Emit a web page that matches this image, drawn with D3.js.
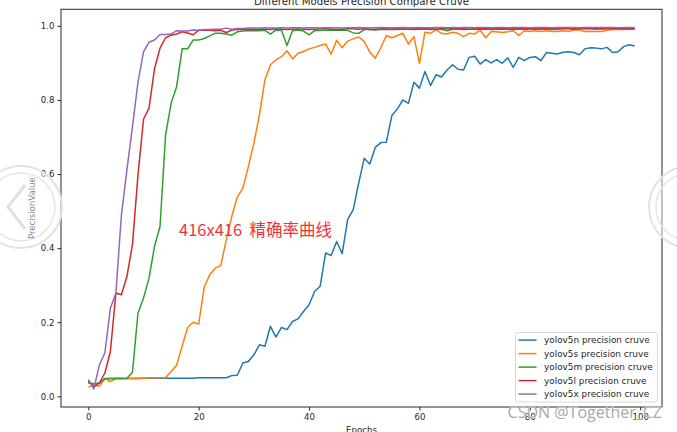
<!DOCTYPE html>
<html>
<head>
<meta charset="utf-8">
<script src="https://cdn.jsdelivr.net/npm/d3@7"></script>
<style>
  body { margin: 0; background: #fff; }
  svg { display: block; }
  .tick text { font-family: "DejaVu Sans", sans-serif; font-size: 8.6px; fill: #262626; }
  .tick line { stroke: #262626; }
</style>
</head>
<body>
<div class="chart"></div>
<script>
const epochs = d3.range(0, 100);

const yolov5n = [0.036,0.034,0.035,0.047,0.048,0.048,0.048,0.048,0.048,0.048,
  0.049,0.049,0.049,0.049,0.049,0.049,0.049,0.049,0.049,0.049,
  0.050,0.050,0.050,0.050,0.050,0.050,0.056,0.057,0.090,0.094,
  0.112,0.139,0.135,0.189,0.160,0.186,0.180,0.202,0.209,0.229,
  0.247,0.283,0.297,0.387,0.380,0.418,0.385,0.478,0.504,0.576,
  0.643,0.627,0.672,0.685,0.686,0.758,0.776,0.800,0.791,0.848,
  0.832,0.877,0.839,0.868,0.862,0.881,0.895,0.883,0.881,0.915,
  0.918,0.897,0.909,0.900,0.909,0.899,0.914,0.888,0.915,0.906,
  0.915,0.917,0.906,0.928,0.926,0.924,0.929,0.930,0.928,0.922,
  0.938,0.941,0.940,0.938,0.942,0.928,0.930,0.944,0.949,0.946];

const yolov5s = [0.025,0.031,0.027,0.048,0.040,0.048,0.048,0.048,0.049,0.049,
  0.049,0.050,0.050,0.050,0.050,0.067,0.084,0.135,0.186,0.200,
  0.195,0.295,0.328,0.346,0.353,0.423,0.486,0.538,0.562,0.620,
  0.683,0.760,0.854,0.895,0.908,0.917,0.933,0.911,0.926,0.931,
  0.938,0.942,0.947,0.951,0.924,0.961,0.941,0.959,0.965,0.970,
  0.958,0.929,0.913,0.941,0.974,0.968,0.974,0.980,0.951,0.971,
  0.899,0.983,0.980,0.989,0.980,0.978,0.983,0.980,0.971,0.980,
  0.978,0.989,0.968,0.985,0.984,0.982,0.984,0.987,0.974,0.987,
  0.985,0.987,0.985,0.987,0.985,0.985,0.987,0.985,0.989,0.989,
  0.985,0.985,0.985,0.985,0.988,0.990,0.990,0.990,0.991,0.991];

const yolov5m = [0.038,0.033,0.036,0.048,0.048,0.048,0.048,0.049,0.065,0.225,
  0.265,0.319,0.405,0.459,0.706,0.791,0.836,0.938,0.938,0.962,
  0.962,0.966,0.973,0.980,0.980,0.978,0.975,0.984,0.986,0.987,
  0.987,0.987,0.988,0.978,0.989,0.988,0.947,0.987,0.989,0.986,
  0.976,0.987,0.988,0.988,0.989,0.988,0.988,0.988,0.981,0.980,
  0.990,0.990,0.989,0.990,0.990,0.991,0.990,0.991,0.991,0.990,
  0.991,0.991,0.990,0.991,0.991,0.987,0.991,0.991,0.990,0.991,
  0.991,0.991,0.991,0.990,0.991,0.991,0.991,0.990,0.991,0.991,
  0.991,0.991,0.991,0.991,0.990,0.991,0.992,0.992,0.991,0.992,
  0.992,0.992,0.991,0.992,0.992,0.992,0.992,0.992,0.991,0.992];

const yolov5l = [0.042,0.025,0.036,0.063,0.121,0.279,0.274,0.324,0.410,0.597,
  0.748,0.778,0.885,0.940,0.968,0.975,0.978,0.984,0.981,0.976,
  0.988,0.988,0.988,0.987,0.988,0.982,0.989,0.990,0.990,0.991,
  0.990,0.991,0.991,0.990,0.992,0.991,0.990,0.991,0.992,0.991,
  0.990,0.991,0.992,0.992,0.991,0.990,0.991,0.992,0.992,0.991,
  0.992,0.990,0.991,0.992,0.992,0.991,0.992,0.992,0.991,0.992,
  0.992,0.993,0.992,0.991,0.992,0.992,0.993,0.992,0.992,0.991,
  0.992,0.993,0.992,0.992,0.993,0.992,0.992,0.993,0.992,0.993,
  0.993,0.992,0.993,0.993,0.992,0.993,0.993,0.993,0.992,0.993,
  0.993,0.993,0.993,0.992,0.993,0.993,0.993,0.993,0.993,0.993];

const yolov5x = [0.045,0.020,0.085,0.117,0.238,0.279,0.490,0.612,0.728,0.848,
  0.930,0.956,0.962,0.977,0.977,0.978,0.987,0.986,0.986,0.989,
  0.988,0.990,0.990,0.991,0.991,0.994,0.991,0.993,0.993,0.994,
  0.994,0.994,0.995,0.994,0.994,0.995,0.994,0.995,0.995,0.994,
  0.995,0.995,0.994,0.995,0.995,0.995,0.994,0.995,0.995,0.996,
  0.995,0.995,0.995,0.996,0.995,0.995,0.995,0.996,0.995,0.995,
  0.996,0.995,0.995,0.996,0.996,0.995,0.996,0.995,0.996,0.996,
  0.995,0.996,0.996,0.995,0.996,0.996,0.995,0.996,0.996,0.996,
  0.995,0.996,0.996,0.996,0.995,0.996,0.996,0.996,0.996,0.995,
  0.996,0.996,0.996,0.996,0.996,0.996,0.995,0.996,0.996,0.996];

const seriesNames = ["yolov5n precision cruve", "yolov5s precision cruve", "yolov5m precision cruve",
  "yolov5l precision cruve", "yolov5x precision cruve"];
const seriesValues = [yolov5n, yolov5s, yolov5m, yolov5l, yolov5x];
const colors = ["#1f77b4", "#ff7f0e", "#2ca02c", "#d62728", "#9467bd"];
const xTicks = [0, 20, 40, 60, 80, 100];
const yTicks = [0.0, 0.2, 0.4, 0.6, 0.8, 1.0];

function drawChart() {
    const w = 677, h = 432;
    const plot = { left: 61, right: 662, top: 9.3, bottom: 407 };

    const svg = d3.select(".chart").append("svg")
        .attr("width", w)
        .attr("height", h);

    // matplotlib style 5% margins around data
    const xExt = d3.extent(epochs);
    const xPad = (xExt[1] - xExt[0]) * 0.05;
    const allValues = seriesValues.flat();
    const yExt = d3.extent(allValues);
    const yPad = (yExt[1] - yExt[0]) * 0.05;

    const xScale = d3.scaleLinear()
        .domain([xExt[0] - xPad, xExt[1] + xPad])
        .range([plot.left, plot.right]);
    const yScale = d3.scaleLinear()
        .domain([yExt[0] - yPad, yExt[1] + yPad])
        .range([plot.bottom, plot.top]);

    // axes
    svg.append("g")
        .attr("transform", `translate(0, ${plot.bottom})`)
        .call(d3.axisBottom(xScale).tickValues(xTicks).tickFormat(d3.format("d")).tickSize(3.5).tickPadding(3))
        .call(g => g.select(".domain").remove());

    svg.append("g")
        .attr("transform", `translate(${plot.left}, 0)`)
        .call(d3.axisLeft(yScale).tickValues(yTicks).tickFormat(d3.format(".1f")).tickSize(3.5).tickPadding(3))
        .call(g => g.select(".domain").remove());

    // lines
    const line = d3.line()
        .x((d, i) => xScale(epochs[i]))
        .y(d => yScale(d));

    svg.selectAll(".series")
        .data(seriesValues)
        .enter().append("path")
        .attr("class", "series")
        .attr("d", d => line(d))
        .attr("fill", "none")
        .attr("stroke", (d, i) => colors[i])
        .attr("stroke-width", 1.5)
        .attr("stroke-linejoin", "round");

    // frame
    svg.append("rect")
        .attr("x", plot.left)
        .attr("y", plot.top)
        .attr("width", plot.right - plot.left)
        .attr("height", plot.bottom - plot.top)
        .attr("fill", "none")
        .attr("stroke", "#262626")
        .attr("stroke-width", 1);

    // titles
    const midX = (plot.left + plot.right) / 2;
    svg.append("text")
        .attr("x", midX)
        .attr("y", 5)
        .attr("text-anchor", "middle")
        .style("font-family", "DejaVu Sans")
        .style("font-size", "10.2px")
        .attr("fill", "#262626")
        .text("Different Models Precision Compare Cruve");

    svg.append("text")
        .attr("x", midX)
        .attr("y", 433)
        .attr("text-anchor", "middle")
        .style("font-family", "DejaVu Sans")
        .style("font-size", "8.6px")
        .attr("fill", "#262626")
        .text("Epochs");

    svg.append("text")
        .attr("transform", `translate(35, ${(plot.top + plot.bottom) / 2}) rotate(-90)`)
        .attr("text-anchor", "middle")
        .style("font-family", "DejaVu Sans")
        .style("font-size", "8.6px")
        .attr("fill", "#262626")
        .text("PrecisionValue");

    // legend
    const legend = svg.append("g").attr("transform", "translate(515.5, 332.5)");
    legend.append("rect")
        .attr("width", 142)
        .attr("height", 69.5)
        .attr("rx", 2)
        .attr("fill", "#fff")
        .attr("fill-opacity", 0.8)
        .attr("stroke", "#d0d0d0")
        .attr("stroke-width", 0.8);

    const items = legend.selectAll(".legend-item")
        .data(seriesNames)
        .enter().append("g")
        .attr("class", "legend-item")
        .attr("transform", (d, i) => `translate(0, ${7.6 + i * 13.5})`);
    items.append("line")
        .attr("x1", 3).attr("x2", 21)
        .attr("stroke", (d, i) => colors[i])
        .attr("stroke-width", 1.5);
    items.append("text")
        .attr("x", 28.5)
        .attr("y", 3)
        .style("font-family", "DejaVu Sans")
        .style("font-size", "8.9px")
        .attr("fill", "#262626")
        .text(d => d);

    // red annotation
    svg.append("text")
        .attr("x", 179)
        .attr("y", 236)
        .style("font-family", "'Noto Sans CJK SC', sans-serif")
        .style("font-size", "16.5px")
        .style("white-space", "pre")
        .attr("fill", "#f5303a")
        .text("416x416  精确率曲线");

    // watermark
    svg.append("text")
        .attr("x", 662)
        .attr("y", 418)
        .attr("text-anchor", "end")
        .style("font-family", "'Open Sans', sans-serif")
        .style("font-size", "16px")
        .attr("fill", "#a8a8a8")
        .attr("stroke", "#fff")
        .attr("stroke-width", 0.6)
        .attr("paint-order", "stroke")
        .text("CSDN @Together_CZ");

    // faint navigation overlays at both edges
    const overlays = [{ cx: 21, dir: -1 }, { cx: 690, dir: 1 }];
    const ov = svg.selectAll(".overlay")
        .data(overlays)
        .enter().append("g")
        .attr("class", "overlay")
        .attr("transform", d => `translate(${d.cx}, 207)`);
    ov.append("circle").attr("r", 41).attr("fill", "#fff").attr("fill-opacity", 0.45)
        .attr("stroke", "#e2e2e2").attr("stroke-width", 2);
    ov.append("circle").attr("r", 34).attr("fill", "none")
        .attr("stroke", "#e6e6e6").attr("stroke-width", 1.5);
    ov.append("path")
        .attr("d", d => `M${-d.dir * 4},-22 L${d.dir * 13},0 L${-d.dir * 4},22`)
        .attr("fill", "none")
        .attr("stroke", "#e0e0e0")
        .attr("stroke-width", 3);
}

drawChart();
</script>
</body>
</html>
